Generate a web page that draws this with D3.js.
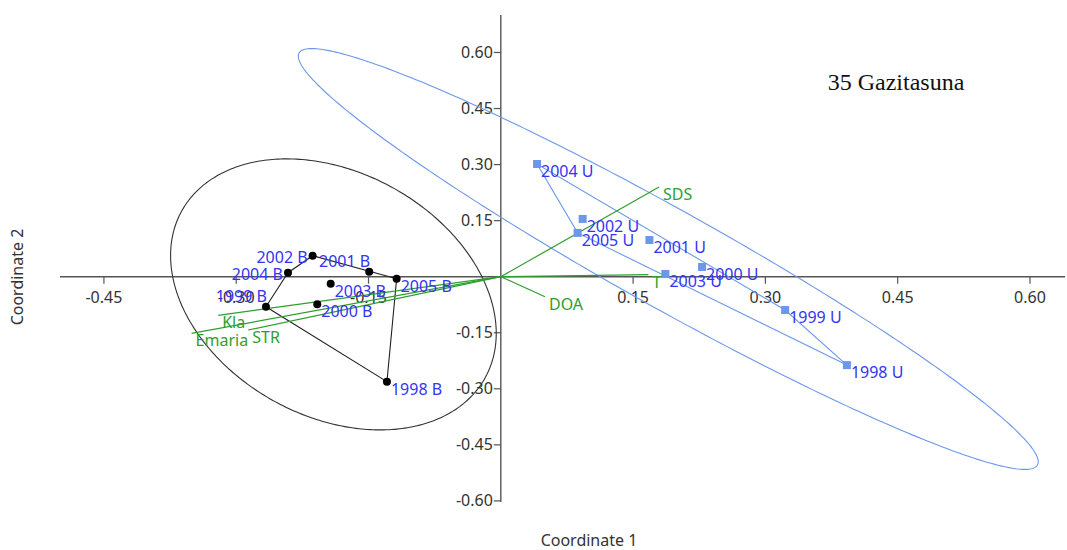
<!DOCTYPE html>
<html>
<head>
<meta charset="utf-8">
<script src="https://cdn.jsdelivr.net/npm/d3@7"></script>
<style>
  html, body { margin: 0; padding: 0; background: #fff; }
  svg { display: block; }
  text { font-family: "Noto Sans", "Open Sans", sans-serif; }
</style>
</head>
<body>
<svg id="chart" width="1067" height="550"></svg>
<script>
// ---- data ----
const bNames = ["1998 B","1999 B","2000 B","2001 B","2002 B","2003 B","2004 B","2005 B"];
const bX = [-0.1291,-0.2663,-0.2081,-0.1492,-0.2134,-0.1929,-0.2413,-0.1181];
const bY = [-0.2809,-0.0803,-0.0739, 0.0134, 0.0562,-0.0187, 0.0107,-0.0054];

const uNames = ["1998 U","1999 U","2000 U","2001 U","2002 U","2003 U","2004 U","2005 U"];
const uX = [0.3924,0.3224,0.2282,0.1685,0.0928,0.1866,0.0411,0.0871];
const uY = [-0.2366,-0.0891,0.0259,0.0982,0.1546,0.0072,0.3016,0.1172];

const vecNames = ["SDS","T","DOA","Kla","Emaria","STR"];
const vecX = [0.1794,0.1673,0.0501,-0.3204,-0.3506,-0.2864];
const vecY = [0.2400,0.0054,-0.0535,-0.1033,-0.1515,-0.1426];

const xTicks = [-0.45,-0.30,-0.15,0.15,0.30,0.45,0.60];
const yTicks = [-0.60,-0.45,-0.30,-0.15,0.15,0.30,0.45,0.60];

const title = "35 Gazitasuna";
const xTitle = "Coordinate 1";
const yTitle = "Coordinate 2";

// label side for crowded labels (others go below-right)
const labelSide = {"2002 B":"left","2004 B":"left","2001 B":"topleft","1999 B":"topleft"};

// F(0.95; 2, n-2) for n = 8, used for 95% ellipses
const F95 = 5.1433;

// ---- layout ----
const svg = d3.select("#chart");
const x = d3.scaleLinear().domain([-0.4998, 0.6397]).range([60, 1065]);
const y = d3.scaleLinear().domain([-0.6029, 0.7003]).range([502, 15]);
const x0 = x(0), y0 = y(0);

const axisColor = "#555";
const green = "#2f9e2f";
const labelBlue = "#3434f4";
const uBlue = "#6b98ea";
const fs = 16;

// axes
const axes = svg.append("g");
axes.append("line").attr("x1", x.range()[0]).attr("x2", x.range()[1])
  .attr("y1", y0).attr("y2", y0).attr("stroke", axisColor).attr("stroke-width", 1.4);
axes.append("line").attr("x1", x0).attr("x2", x0)
  .attr("y1", y.range()[1]).attr("y2", y.range()[0]).attr("stroke", axisColor).attr("stroke-width", 1.4);

axes.selectAll(".xt").data(xTicks).enter().append("line")
  .attr("x1", d => x(d)).attr("x2", d => x(d)).attr("y1", y0).attr("y2", y0 + 7)
  .attr("stroke", axisColor).attr("stroke-width", 1.2);
axes.selectAll(".xl").data(xTicks).enter().append("text")
  .attr("x", d => x(d)).attr("y", y0 + 26).attr("text-anchor", "middle")
  .attr("font-size", fs).attr("fill", "#333").text(d => d.toFixed(2));

axes.selectAll(".yt").data(yTicks).enter().append("line")
  .attr("x1", x0 - 7).attr("x2", x0).attr("y1", d => y(d)).attr("y2", d => y(d))
  .attr("stroke", axisColor).attr("stroke-width", 1.2);
axes.selectAll(".yl").data(yTicks).enter().append("text")
  .attr("x", x0 - 8).attr("y", d => y(d) + 5.5).attr("text-anchor", "end")
  .attr("font-size", fs).attr("fill", "#333").text(d => d.toFixed(2));

// axis titles
svg.append("text").attr("x", 589).attr("y", 546).attr("text-anchor", "middle")
  .attr("font-size", fs).attr("fill", "#333").text(xTitle);
svg.append("text").attr("transform", "translate(23," + 277 + ") rotate(-90)")
  .attr("text-anchor", "middle").attr("font-size", fs).attr("fill", "#333").text(yTitle);

// title (serif)
svg.append("text").attr("x", 896).attr("y", 90).attr("text-anchor", "middle")
  .style("font-family", "'Liberation Serif', 'Times New Roman', serif")
  .attr("font-size", 24).attr("fill", "#111").text(title);

// ---- ellipses computed from group data ----
function ellipsePath(xs, ys) {
  const n = xs.length;
  const mx = d3.mean(xs), my = d3.mean(ys);
  let sxx = 0, syy = 0, sxy = 0;
  for (let i = 0; i < n; i++) {
    const dx = xs[i] - mx, dy = ys[i] - my;
    sxx += dx * dx; syy += dy * dy; sxy += dx * dy;
  }
  sxx /= (n - 1); syy /= (n - 1); sxy /= (n - 1);
  const k = Math.sqrt(2 * (n - 1) / (n - 2) * F95);
  const l11 = Math.sqrt(sxx);
  const l21 = sxy / l11;
  const l22 = Math.sqrt(Math.max(syy - l21 * l21, 0));
  const pts = d3.range(0, 2 * Math.PI, Math.PI / 180).map(t => {
    const c = Math.cos(t) * k, s = Math.sin(t) * k;
    return [x(mx + l11 * c), y(my + l21 * c + l22 * s)];
  });
  return d3.line().curve(d3.curveLinearClosed)(pts);
}

svg.append("path").attr("d", ellipsePath(bX, bY))
  .attr("fill", "none").attr("stroke", "#333").attr("stroke-width", 1.1);
svg.append("path").attr("d", ellipsePath(uX, uY))
  .attr("fill", "none").attr("stroke", uBlue).attr("stroke-width", 1.1);

// ---- convex hulls ----
function hullPath(xs, ys) {
  const pts = xs.map((v, i) => [x(v), y(ys[i])]);
  const h = d3.polygonHull(pts);
  return d3.line().curve(d3.curveLinearClosed)(h);
}
svg.append("path").attr("d", hullPath(bX, bY))
  .attr("fill", "none").attr("stroke", "#222").attr("stroke-width", 1.1);
svg.append("path").attr("d", hullPath(uX, uY))
  .attr("fill", "none").attr("stroke", uBlue).attr("stroke-width", 1.1);

// ---- biplot vectors ----
const vec = svg.append("g");
vecNames.forEach((nm, i) => {
  vec.append("line").attr("x1", x0).attr("y1", y0)
    .attr("x2", x(vecX[i])).attr("y2", y(vecY[i]))
    .attr("stroke", green).attr("stroke-width", 1.2);
  vec.append("text").attr("x", x(vecX[i]) + 4).attr("y", y(vecY[i]) + 13)
    .attr("font-size", fs).attr("fill", green).text(nm);
});

// ---- points ----
svg.selectAll(".bp").data(bNames).enter().append("circle")
  .attr("cx", (d, i) => x(bX[i])).attr("cy", (d, i) => y(bY[i])).attr("r", 4)
  .attr("fill", "#000");
const sq = 8;
svg.selectAll(".up").data(uNames).enter().append("rect")
  .attr("x", (d, i) => x(uX[i]) - sq / 2).attr("y", (d, i) => y(uY[i]) - sq / 2)
  .attr("width", sq).attr("height", sq).attr("fill", uBlue);

// ---- point labels ----
function placeLabel(name, px, py) {
  const side = labelSide[name] || "br";
  const t = svg.append("text").attr("font-size", fs).attr("fill", labelBlue).text(name);
  if (side === "left") {
    t.attr("x", px - 5).attr("y", py + 7).attr("text-anchor", "end");
  } else if (side === "topleft") {
    t.attr("x", px + 1).attr("y", py - 5).attr("text-anchor", "end");
  } else {
    t.attr("x", px + 4).attr("y", py + 13);
  }
}
bNames.forEach((nm, i) => placeLabel(nm, x(bX[i]), y(bY[i])));
uNames.forEach((nm, i) => placeLabel(nm, x(uX[i]), y(uY[i])));
</script>
</body>
</html>
